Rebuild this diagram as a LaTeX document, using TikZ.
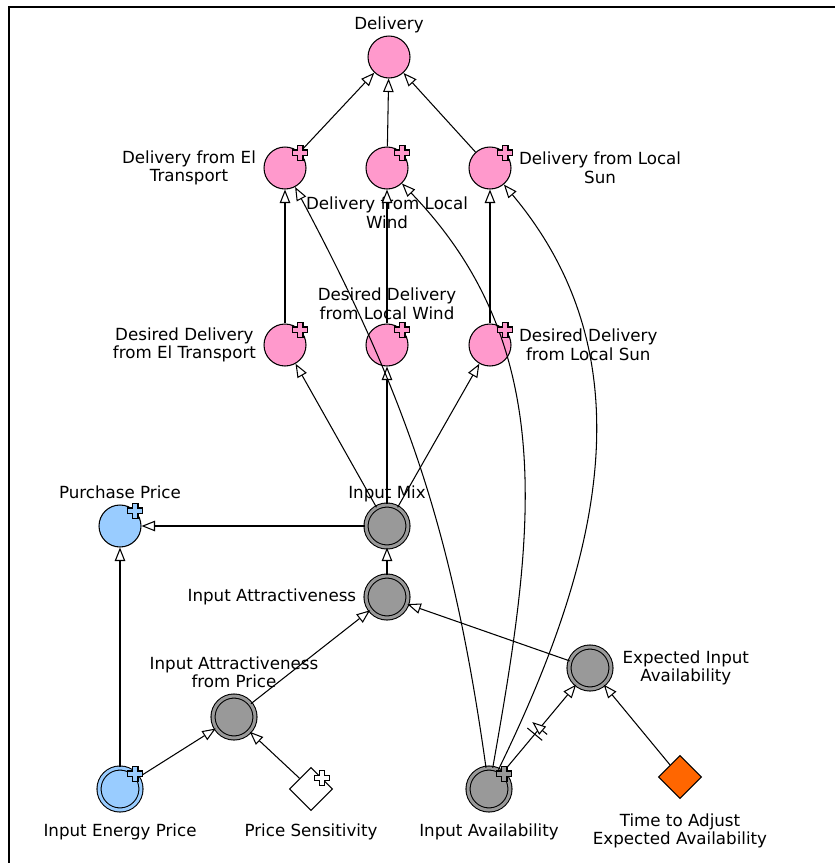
\documentclass[tikz,border=0pt]{standalone}
\usepackage{fontspec}
\setmainfont{DejaVu Sans}
\usetikzlibrary{positioning,arrows.meta,shapes.geometric,decorations.markings}

\definecolor{stockpink}{HTML}{FF99CC}
\definecolor{flowblue}{HTML}{99CCFF}
\definecolor{auxgray}{HTML}{999999}
\definecolor{constorange}{HTML}{FF6600}

\newcommand{\plusmark}[2]{%
  \draw[fill=#2,shift={(#1)}] (-2.8,-7.5) -- (2.8,-7.5) -- (2.8,-2.8) -- (7.5,-2.8)
    -- (7.5,2.8) -- (2.8,2.8) -- (2.8,7.5) -- (-2.8,7.5) -- (-2.8,2.8) -- (-7.5,2.8)
    -- (-7.5,-2.8) -- (-2.8,-2.8) -- cycle;}

\begin{document}
\begin{tikzpicture}[x=0.02cm,y=-0.02cm,line width=0.6pt,
  font=\fontsize{9.5}{10.6}\selectfont,
  pinknode/.style={circle,draw,fill=stockpink,minimum size=0.84cm,inner sep=0pt},
  bluenode/.style={circle,draw,fill=flowblue,minimum size=0.84cm,inner sep=0pt},
  grayring/.style={circle,draw,fill=auxgray,double=auxgray,double distance=1.7pt,
    minimum size=0.84cm,inner sep=0pt},
  bluering/.style={grayring,fill=flowblue,double=flowblue},
  diamondnode/.style={diamond,draw,minimum size=0.86cm,inner sep=0pt},
  lbl/.style={inner sep=1pt,align=center},
  arr/.style={-{Triangle[length=0.27cm,width=0.21cm,fill=white]}},
  delaymark/.style={postaction={decorate,decoration={markings,
    mark=at position 0.47 with {\draw (-2.2pt,-5.5pt) -- (-2.2pt,5.5pt) (2.2pt,-5.5pt) -- (2.2pt,5.5pt);}}}}]
  \useasboundingbox (0,0) rectangle (835,863);
  % Frame
  \draw[line width=1.2pt] (9,863) -- (9,7) -- (835,7);

  % Delivery chain
  \node[pinknode] (del) at (389,57) {};
  \node[pinknode] (delel) at (285,168) {};
  \node[pinknode] (delwind) at (387,168) {};
  \node[pinknode] (delsun) at (490,168) {};
  \node[pinknode] (desel) at (285,345) {};
  \node[pinknode] (deswind) at (387,345) {};
  \node[pinknode] (dessun) at (490,345) {};

  % Price and input nodes
  \node[bluenode] (pp) at (120,526) {};
  \node[grayring] (mix) at (387,526) {};
  \node[grayring] (attr) at (387,597) {};
  \node[grayring] (attrp) at (234,717) {};
  \node[bluering] (iep) at (120,789) {};
  \node[diamondnode,fill=white] (ps) at (311,789) {};
  \node[grayring] (ia) at (489,789) {};
  \node[grayring] (eia) at (590,668) {};
  \node[diamondnode,fill=constorange] (taea) at (680,777) {};

  % Labels
  \node[lbl,above=0pt of del] (del-t) {Delivery};
  \node[lbl,left=3pt of delel] (delel-t) {Delivery from El\\Transport};
  \node[lbl,below=3pt of delwind] (delwind-t) {Delivery from Local\\Wind};
  \node[lbl,right=3pt of delsun] (delsun-t) {Delivery from Local\\Sun};
  \node[lbl,left=3pt of desel] (desel-t) {Desired Delivery\\from El Transport};
  \node[lbl,above=1pt of deswind] (deswind-t) {Desired Delivery\\from Local Wind};
  \node[lbl,right=3pt of dessun] (dessun-t) {Desired Delivery\\from Local Sun};
  \node[lbl,above=2pt of pp] (pp-t) {Purchase Price};
  \node[lbl,above=0pt of mix] (mix-t) {Input Mix};
  \node[lbl,left=4pt of attr] (attr-t) {Input Attractiveness};
  \node[lbl,above=3pt of attrp] (attrp-t) {Input Attractiveness\\from Price};
  \node[lbl,below=6pt of iep] (iep-t) {Input Energy Price};
  \node[lbl,below=6pt of ps] (ps-t) {Price Sensitivity};
  \node[lbl,below=6pt of ia] (ia-t) {Input Availability};
  \node[lbl,right=5pt of eia] (eia-t) {Expected Input\\Availability};
  \node[lbl,below=7pt of taea] (taea-t) {Time to Adjust\\Expected Availability};

  % Links
  \draw[arr] (delel) -- (del);
  \draw[arr] (delwind) -- (del);
  \draw[arr] (delsun) -- (del);
  \draw[arr] (desel) -- (delel);
  \draw[arr] (deswind) -- (delwind);
  \draw[arr] (dessun) -- (delsun);
  \draw[arr] (mix) -- (desel);
  \draw[arr] (mix) -- (deswind);
  \draw[arr] (mix) -- (dessun);
  \draw[arr] (mix) -- (pp);
  \draw[arr] (attr) -- (mix);
  \draw[arr] (attrp) -- (attr);
  \draw[arr] (eia) -- (attr);
  \draw[arr] (iep) -- (pp);
  \draw[arr] (iep) -- (attrp);
  \draw[arr] (ps) -- (attrp);
  \draw[arr,delaymark] (ia) -- (eia);
  \draw[arr] (taea) -- (eia);
  \draw[arr] (ia) to[out=98,in=-62] (delel);
  \draw[arr] (ia) to[out=80,in=-46] (delwind);
  \draw[arr] (ia) to[out=64,in=-50] (delsun);

  % Plus marks
  \foreach \n/\c in {delel/stockpink,delwind/stockpink,delsun/stockpink,
    desel/stockpink,deswind/stockpink,dessun/stockpink,pp/flowblue,
    iep/flowblue,ps/white,ia/auxgray}
    \plusmark{\n.45}{\c};
\end{tikzpicture}
\end{document}
